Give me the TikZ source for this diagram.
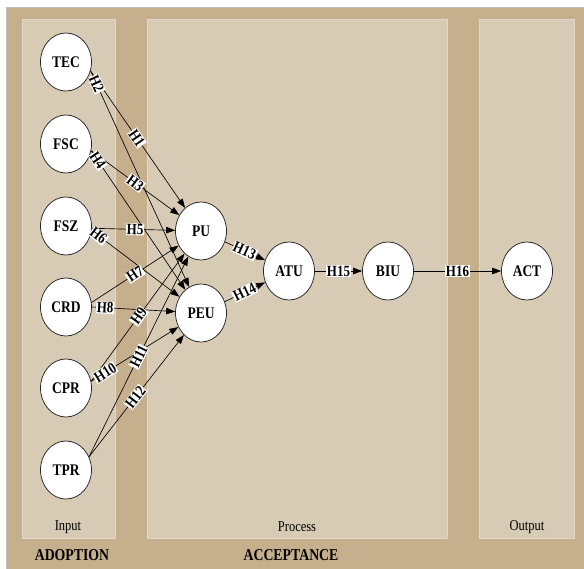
\documentclass[tikz,border=0pt]{standalone}
\usepackage{fontspec}
\usepackage{graphicx}
\setmainfont{Liberation Serif}
\usetikzlibrary{arrows.meta,shapes.geometric}
\definecolor{tanbg}{RGB}{198,175,140}
\definecolor{panel}{RGB}{215,203,181}
\definecolor{panelrim}{RGB}{224,216,202}
\definecolor{framegray}{RGB}{190,190,190}
\newcommand{\tallt}[1]{\scalebox{1}[1.2]{#1}}
\begin{document}
\begin{tikzpicture}[x=1pt,y=-1pt,
  var/.style={ellipse, draw=black!85, line width=0.75pt, fill=white,
    minimum width=51pt, minimum height=58pt, inner sep=0pt,
    font=\bfseries\fontsize{13.5}{13.5}\selectfont},
  hyp/.style={fill=white, inner sep=0.7pt, sloped,
    font=\bfseries\fontsize{13}{13}\selectfont},
  link/.style={draw=black, line width=0.65pt, -{Triangle[length=9pt,width=6.5pt]}},
  panelbox/.style={fill=panel, draw=panelrim, line width=0.8pt},
  regionlabel/.style={font=\fontsize{12.5}{12.5}\selectfont},
  grouplabel/.style={font=\bfseries\fontsize{13.8}{13.8}\selectfont}]
\useasboundingbox (0,0) rectangle (584,569);
% background
\fill[white] (0,0) rectangle (584,569);
\fill[tanbg] (7,8) rectangle (584,569);
\draw[framegray, line width=1pt] (6.5,569) -- (6.5,7.5) -- (584,7.5);
% panels
\path[panelbox] (22,19) rectangle (115,538);
\path[panelbox] (147,19) rectangle (447,538);
\path[panelbox] (479,19) rectangle (574,538);
\node[regionlabel] (lin) at (68,527) {\tallt{Input}};
\node[regionlabel] (lpr) at (297,527) {\tallt{Process}};
\node[regionlabel] (lout) at (527,527) {\tallt{Output}};
\node[grouplabel] (ladop) at (72,555) {\tallt{ADOPTION}};
\node[grouplabel] (lacc) at (291,555) {\tallt{ACCEPTANCE}};
% nodes
\node[var] (TEC) at (66,62) {\tallt{TEC}};
\node[var] (FSC) at (66,144) {\tallt{FSC}};
\node[var] (FSZ) at (66,226) {\tallt{FSZ}};
\node[var] (CRD) at (66,307) {\tallt{CRD}};
\node[var] (CPR) at (66,388) {\tallt{CPR}};
\node[var] (TPR) at (66,470) {\tallt{TPR}};
\node[var] (PU) at (201,231) {\tallt{PU}};
\node[var] (PEU) at (201,313) {\tallt{PEU}};
\node[var] (ATU) at (289,271) {\tallt{ATU}};
\node[var] (BIU) at (388,271) {\tallt{BIU}};
\node[var] (ACT) at (527,271) {\tallt{ACT}};
% edges from the input variables (tail on the right side of the source)
\def\inedges{TEC/-20/PU/0.49/H1, TEC/-20/PEU/0.06/H2, FSC/-15/PU/0.50/H3,
  FSC/-15/PEU/0.07/H4, FSZ/-5/PU/0.52/H5, FSZ/-10/PEU/0.08/H6, CRD/10/PU/0.50/H7,
  CRD/0/PEU/0.16/H8, CPR/15/PU/0.51/H9, CPR/15/PEU/0.16/H10, TPR/30/PU/0.50/H11,
  TPR/30/PEU/0.49/H12}
\foreach \a/\ang/\b/\p/\t in \inedges
  {\draw[link] (\a.\ang) -- (\b);}
\foreach \a/\b/\t in {PU/ATU/H13, PEU/ATU/H14, ATU/BIU/H15, BIU/ACT/H16}
  {\draw[link] (\a) -- (\b);}
\foreach \a/\ang/\b/\p/\t in \inedges
  {\path (\a.\ang) -- node[hyp,pos=\p] {\tallt{\t}} (\b);}
\foreach \a/\b/\p/\t in {PU/ATU/0.49/H13, PEU/ATU/0.49/H14, ATU/BIU/0.5/H15,
  BIU/ACT/0.5/H16}
  {\path (\a) -- node[hyp,pos=\p] {\tallt{\t}} (\b);}
\end{tikzpicture}
\end{document}
